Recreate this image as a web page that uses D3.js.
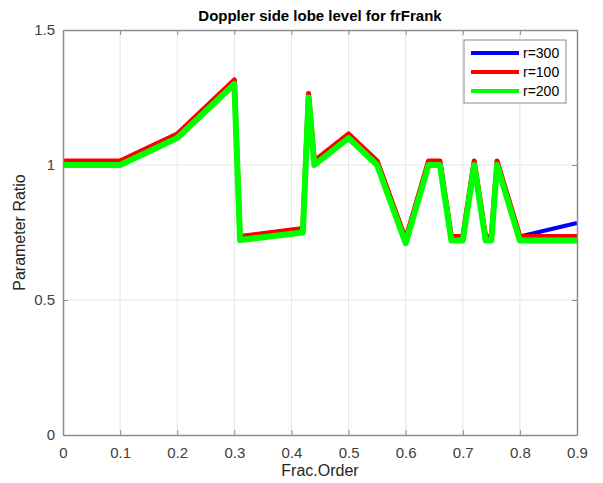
<!DOCTYPE html>
<html>
<head>
<meta charset="utf-8">
<script src="https://cdn.jsdelivr.net/npm/d3@7"></script>
<style>
  body { margin: 0; background: #fff; }
  svg text { font-family: "Liberation Sans", Arial, sans-serif; }
</style>
</head>
<body>
<div id="chart"></div>
<script>
// values
var fracOrder = [0, 0.1, 0.2, 0.3, 0.31, 0.42, 0.43, 0.44, 0.5, 0.55, 0.6, 0.64, 0.66, 0.68, 0.7, 0.72, 0.74, 0.75, 0.76, 0.8, 0.9];
var r300 = [1.015, 1.015, 1.115, 1.315, 0.735, 0.765, 1.265, 1.015, 1.115, 1.015, 0.725, 1.015, 1.015, 0.735, 0.735, 1.015, 0.735, 0.735, 1.015, 0.735, 0.785];
var r100 = [1.015, 1.015, 1.115, 1.315, 0.735, 0.765, 1.265, 1.015, 1.115, 1.015, 0.725, 1.015, 1.015, 0.735, 0.735, 1.015, 0.735, 0.735, 1.015, 0.735, 0.735];
var r200 = [1.0, 1.0, 1.1, 1.3, 0.722, 0.75, 1.25, 1.0, 1.1, 1.0, 0.71, 1.0, 1.0, 0.72, 0.72, 1.0, 0.72, 0.72, 1.0, 0.72, 0.72];

var xTicks = [0, 0.1, 0.2, 0.3, 0.4, 0.5, 0.6, 0.7, 0.8, 0.9];
var yTicks = [0, 0.5, 1, 1.5];

var series = [
  {name: "r=300", values: r300, color: "#0000ff", width: 4},
  {name: "r=100", values: r100, color: "#ff0000", width: 5},
  {name: "r=200", values: r200, color: "#00ff00", width: 6}
];

var width = 603, height = 483;
var pLeft = 63, pRight = 577, pTop = 30, pBottom = 435;

var svg = d3.select("#chart").append("svg").attr("width", width).attr("height", height);

var x = d3.scaleLinear().domain([0, 0.9]).range([pLeft, pRight]);
var y = d3.scaleLinear().domain([0, 1.5]).range([pBottom, pTop]);

// grid
svg.append("g").selectAll("line").data(xTicks.slice(1, -1)).join("line")
    .attr("x1", function(d) { return x(d); }).attr("x2", function(d) { return x(d); })
    .attr("y1", pTop).attr("y2", pBottom)
    .attr("stroke", "#e6e6e6").attr("stroke-width", 1);
svg.append("g").selectAll("line").data(yTicks.slice(1, -1)).join("line")
    .attr("y1", function(d) { return y(d); }).attr("y2", function(d) { return y(d); })
    .attr("x1", pLeft).attr("x2", pRight)
    .attr("stroke", "#e6e6e6").attr("stroke-width", 1);

// lines
var line = d3.line()
    .x(function(d, i) { return x(fracOrder[i]); })
    .y(function(d) { return y(d); });

series.forEach(function(s) {
  svg.append("path").attr("d", line(s.values))
      .attr("fill", "none")
      .attr("stroke", s.color)
      .attr("stroke-width", s.width)
      .attr("stroke-linejoin", "round");
});

// axes
var fmt = function(d) { return d3.format("")(d); };
var xAxis = d3.axisBottom(x).tickValues(xTicks).tickFormat(fmt).tickSizeInner(-5).tickSizeOuter(0).tickPadding(12);
var yAxis = d3.axisLeft(y).tickValues(yTicks).tickFormat(fmt).tickSizeInner(-5).tickSizeOuter(0).tickPadding(8);

var gx = svg.append("g").attr("transform", "translate(0," + pBottom + ")").call(xAxis);
var gy = svg.append("g").attr("transform", "translate(" + pLeft + ",0)").call(yAxis);
var gx2 = svg.append("g").attr("transform", "translate(0," + pTop + ")")
    .call(d3.axisTop(x).tickValues(xTicks).tickFormat("").tickSizeInner(-5).tickSizeOuter(0));
var gy2 = svg.append("g").attr("transform", "translate(" + pRight + ",0)")
    .call(d3.axisRight(y).tickValues(yTicks).tickFormat("").tickSizeInner(-5).tickSizeOuter(0));

[gx, gy, gx2, gy2].forEach(function(g) {
  g.select(".domain").attr("stroke", "#8c8c8c").attr("stroke-width", 1.5);
  g.selectAll(".tick line").attr("stroke", "#8c8c8c");
  g.selectAll(".tick text").attr("fill", "#404040").style("font-size", "15px");
});

// labels
svg.append("text").attr("x", (pLeft + pRight) / 2).attr("y", 21)
    .attr("text-anchor", "middle").style("font-size", "15px").style("font-weight", "bold")
    .attr("fill", "#000").text("Doppler side lobe level for frFrank");
svg.append("text").attr("x", (pLeft + pRight) / 2).attr("y", 476)
    .attr("text-anchor", "middle").style("font-size", "16px")
    .attr("fill", "#262626").text("Frac.Order");
svg.append("text").attr("transform", "translate(25," + (pTop + pBottom) / 2 + ") rotate(-90)")
    .attr("text-anchor", "middle").style("font-size", "16px")
    .attr("fill", "#262626").text("Parameter Ratio");

// legend
var lg = svg.append("g").attr("transform", "translate(464,40)");
lg.append("rect").attr("width", 102).attr("height", 63)
    .attr("fill", "#fff").attr("stroke", "#8c8c8c").attr("stroke-width", 1);
series.forEach(function(s, i) {
  var yy = 13 + i * 19;
  lg.append("line").attr("x1", 7).attr("x2", 55).attr("y1", yy).attr("y2", yy)
      .attr("stroke", s.color).attr("stroke-width", 4);
  lg.append("text").attr("x", 59).attr("y", yy + 5).style("font-size", "14px")
      .attr("fill", "#000").text(s.name);
});
</script>
</body>
</html>
